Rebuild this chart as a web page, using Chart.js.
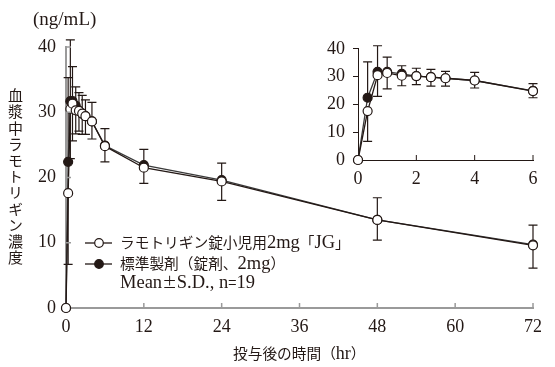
<!DOCTYPE html>
<html>
<head>
<meta charset="utf-8">
<script src="https://cdn.jsdelivr.net/npm/chart.js@4.4.1/dist/chart.umd.min.js"></script>
<style>
  html,body{margin:0;padding:0;background:#fff;}
  #wrap{position:relative;width:555px;height:367px;overflow:hidden;font-family:"Liberation Serif","Noto Sans CJK JP",serif;color:#231815;}
  canvas{position:absolute;}
  .lbl{position:absolute;white-space:nowrap;}
  .j{font-family:"Noto Sans CJK JP",sans-serif;font-size:14.7px;}
  #unit{left:33px;top:8px;font-size:19px;}
  #ytitle{left:7px;top:88px;font-family:"Noto Sans CJK JP",sans-serif;font-size:15px;writing-mode:vertical-rl;text-orientation:upright;letter-spacing:1.2px;line-height:16px;}
  #xtitle{left:233px;top:342px;font-size:18px;line-height:22px;}
  .leg{left:84px;font-size:18.5px;line-height:20px;}
  .leg svg{vertical-align:middle;margin-right:7px;position:relative;top:-1px;}
</style>
</head>
<body>
<div id="wrap">
  <canvas id="main" width="555" height="367" style="left:0;top:0"></canvas>
  <canvas id="inset" width="255" height="170" style="left:300px;top:30px"></canvas>
  <div class="lbl" id="unit">(ng/mL)</div>
  <div class="lbl" id="ytitle">血漿中ラモトリギン濃度</div>
  <div class="lbl" id="xtitle"><span class="j">投与後の時間（</span>hr<span class="j">）</span></div>
  <div class="lbl leg" style="top:232px"><svg width="29" height="12"><line x1="1" y1="6" x2="28" y2="6" stroke="#231815" stroke-width="1.3"/><circle cx="15" cy="6" r="4.3" fill="#fff" stroke="#231815" stroke-width="1.2"/></svg><span class="j">ラモトリギン錠小児用</span>2mg<span class="j">「</span>JG<span class="j">」</span></div>
  <div class="lbl leg" style="top:253px"><svg width="29" height="12"><line x1="1" y1="6" x2="28" y2="6" stroke="#231815" stroke-width="1.3"/><circle cx="15" cy="6" r="4.3" fill="#231815" stroke="#231815" stroke-width="1.2"/></svg><span class="j">標準製剤（錠剤、</span>2mg<span class="j">）</span></div>
  <div class="lbl leg" style="top:272px;left:120px">Mean<span class="j">±</span>S.D., n<span class="j">=</span>19</div>
</div>
<script>
// 採血時間 (hr)
const hours=[0,0.33,0.67,1,1.5,2,2.5,3,4,6,12,24,48,72];
// ラモトリギン錠小児用2mg「JG」
const testMean=[0,17.6,30.5,31.3,30.3,30.2,29.8,29.4,28.6,24.8,21.5,19.4,13.5,9.6];
const testSD  =[0,10.9,7.6,5.7,3.6,3.1,3.2,2.8,2.7,2.4,2.4,2.9,3.1,3.5];
// 標準製剤（錠剤、2mg）
const refMean =[0,22.4,31.7,31.7,31.0,30.2,29.8,29.4,28.6,24.9,21.9,19.6,13.5,9.7];
const refSD   =[0,12.9,9.4,5.3,2.9,2.8,2.8,2.5,2.9,2.6,2.4,2.6,3.4,3.0];

const mainXTicks=[0,12,24,36,48,60,72];
const insetXTicks=[0,2,4,6];
const yTicks=[0,10,20,30,40];

const INK='#231815', AXIS='#9a9a9a';
const NUMFONT={family:'"Liberation Serif", serif',size:18};

function pts(ys,n){return hours.slice(0,n).map((h,i)=>({x:h,y:ys[i]}));}

// 誤差棒 (試験製剤は下側SD、標準製剤は上側SD)
const errorBars={
  id:'errorBars',
  beforeDatasetsDraw(chart){
    const {ctx,scales:{x,y}}=chart;
    ctx.save();ctx.strokeStyle=INK;ctx.lineWidth=1.2;
    chart.data.datasets.forEach(ds=>{
      ds.data.forEach((p,i)=>{
        const s=ds.sd[i]; if(!s) return;
        const px=x.getPixelForValue(p.x), y0=y.getPixelForValue(p.y), y1=y.getPixelForValue(p.y+ds.dir*s);
        ctx.beginPath();ctx.moveTo(px,y0);ctx.lineTo(px,y1);
        ctx.moveTo(px-4.5,y1);ctx.lineTo(px+4.5,y1);ctx.stroke();
      });
    });
    ctx.restore();
  }
};

// 内向きの目盛り
const innerTicks={
  id:'innerTicks',
  afterDatasetsDraw(chart,args,opts){
    const {ctx,chartArea:a,scales:{x,y}}=chart;
    ctx.save();ctx.strokeStyle=opts.color;ctx.lineWidth=opts.width;
    ctx.beginPath();
    x.ticks.forEach(t=>{const px=x.getPixelForValue(t.value);if(t.value===0)return;ctx.moveTo(px,a.bottom);ctx.lineTo(px,a.bottom-5);});
    if(opts.yAxis) y.ticks.forEach(t=>{const py=y.getPixelForValue(t.value);if(t.value===0)return;ctx.moveTo(a.left,py);ctx.lineTo(a.left+5,py);});
    ctx.stroke();ctx.restore();
  }
};

function datasets(n){
  return [
    {label:'ラモトリギン錠小児用2mg「JG」',data:pts(testMean,n),sd:testSD,dir:-1,
     borderColor:INK,borderWidth:1.3,pointRadius:4.5,pointBorderWidth:1.2,
     pointBackgroundColor:'#fff',pointBorderColor:INK,clip:false},
    {label:'標準製剤（錠剤、2mg）',data:pts(refMean,n),sd:refSD,dir:1,
     borderColor:'#3a3a3a',borderWidth:1.3,pointRadius:4.5,pointBorderWidth:1.2,
     pointBackgroundColor:INK,pointBorderColor:INK,clip:false}
  ];
}

new Chart(document.getElementById('main'),{
  type:'line',
  data:{datasets:datasets(hours.length)},
  options:{
    responsive:false,animation:false,devicePixelRatio:1,
    layout:{padding:{left:0,top:47,right:22,bottom:0}},
    plugins:{legend:{display:false},tooltip:{enabled:false},innerTicks:{color:AXIS,width:1.5,yAxis:true}},
    scales:{
      x:{type:'linear',min:0,max:72,
        afterBuildTicks:s=>{s.ticks=mainXTicks.map(v=>({value:v}));},
        afterFit:s=>{s.height=59;},
        grid:{display:false,drawTicks:false},border:{color:AXIS,width:2},
        ticks:{color:INK,font:NUMFONT,padding:8,maxRotation:0}},
      y:{min:0,max:40,
        afterBuildTicks:s=>{s.ticks=yTicks.map(v=>({value:v}));},
        afterFit:s=>{s.width=66;},
        grid:{display:false,drawTicks:false},border:{color:AXIS,width:2},
        ticks:{color:INK,font:NUMFONT,padding:10}}
    }
  },
  plugins:[errorBars,innerTicks]
});

new Chart(document.getElementById('inset'),{
  type:'line',
  data:{datasets:datasets(10)},
  options:{
    responsive:false,animation:false,devicePixelRatio:1,
    layout:{padding:{left:0,top:14,right:22,bottom:0}},
    plugins:{legend:{display:false},tooltip:{enabled:false},innerTicks:{color:INK,width:1,yAxis:false}},
    scales:{
      x:{type:'linear',min:0,max:6,
        afterBuildTicks:s=>{s.ticks=insetXTicks.map(v=>({value:v}));},
        afterFit:s=>{s.height=40;},
        grid:{display:false,drawTicks:false},border:{color:INK,width:1},
        ticks:{color:INK,font:NUMFONT,padding:8,maxRotation:0}},
      y:{min:0,max:40,
        afterBuildTicks:s=>{s.ticks=yTicks.map(v=>({value:v}));},
        afterFit:s=>{s.width=58;},
        grid:{drawOnChartArea:false,drawTicks:true,tickLength:5,color:INK},border:{color:INK,width:1},
        ticks:{color:INK,font:NUMFONT,padding:8}}
    }
  },
  plugins:[errorBars,innerTicks]
});
</script>
</body>
</html>
